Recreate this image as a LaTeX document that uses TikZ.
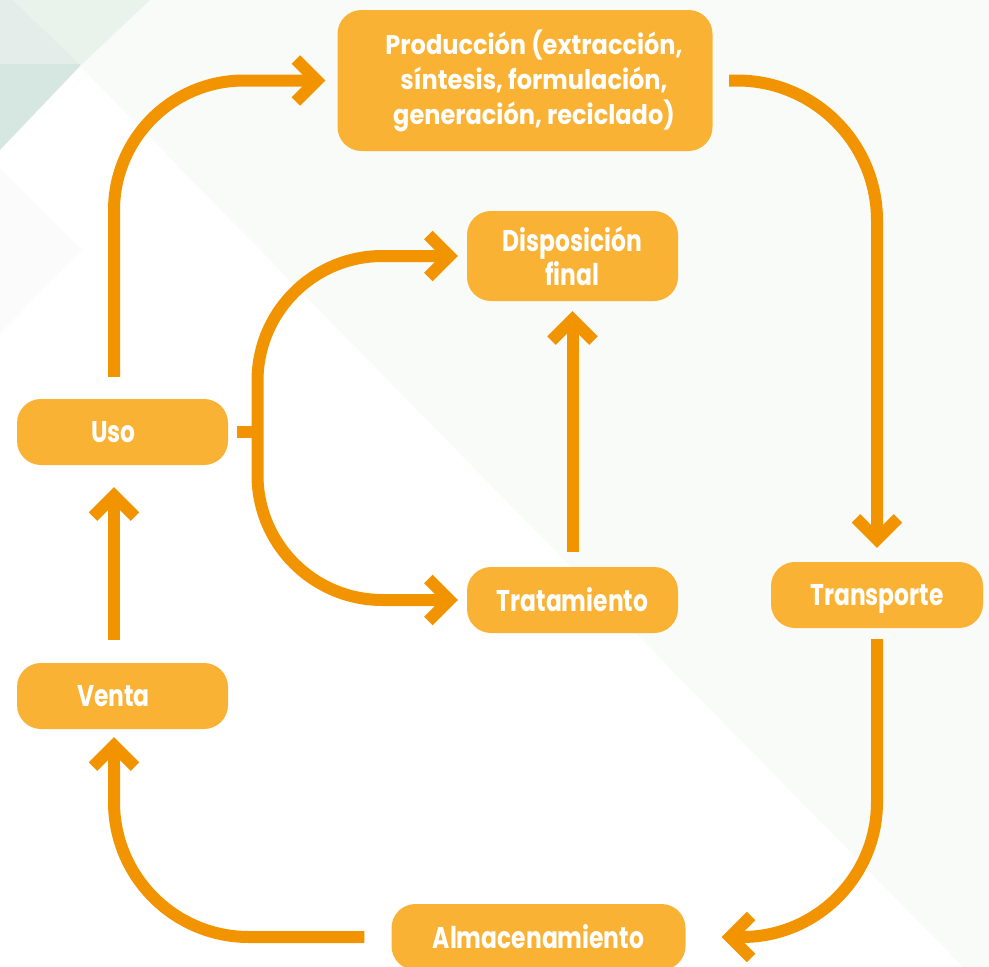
\documentclass[tikz,border=0pt]{standalone}
\usepackage{fontspec}
\setmainfont{Poppins}[FakeStretch=0.78]
\newfontfamily\prodfont{Poppins}[FakeStretch=0.89]
\usetikzlibrary{arrows.meta,calc}
\definecolor{boxfill}{HTML}{F9B233}
\definecolor{arrowc}{HTML}{F29400}
\definecolor{bggrey}{HTML}{E4EDEA}
\definecolor{bggreen}{HTML}{E9F3EC}
\definecolor{bgdark}{HTML}{D6E6E0}
\definecolor{bglight}{HTML}{F8FBF8}
\definecolor{bgfaint}{HTML}{FBFBFB}
\begin{document}
\begin{tikzpicture}[x=1pt,y=-1pt,
  box/.style={draw=none, fill=boxfill, rounded corners=24pt, text=white,
    font=\bfseries\fontsize{30}{34}\selectfont, inner sep=0pt, align=center,
    minimum width=211pt, minimum height=66pt},
  flow/.style={draw=arrowc, line width=12pt, -{Straight Barb[length=21pt,width=42pt]}},
  link/.style={draw=arrowc, line width=12pt}]
\useasboundingbox (0,0) rectangle (989,967);
% background
\fill[white] (0,0) rectangle (989,967);
\fill[bglight] (150,0) -- (989,0) -- (989,967) -- (963,967) -- (80,66) -- cycle;
\fill[bggrey] (0,0) -- (13,0) -- (80,64) -- (0,64) -- cycle;
\fill[bggreen] (13,0) -- (150,0) -- (80,66) -- (80,64) -- cycle;
\fill[bgdark] (0,64) -- (80,64) -- (80,66) -- (0,150) -- cycle;
\fill[bgfaint] (0,168) -- (82,250) -- (0,333) -- cycle;
% nodes
\node[box, minimum width=375pt, minimum height=141pt, font=\prodfont\bfseries\fontsize{27}{35}\selectfont] (prod) at (525,80.5)
  {\hspace*{18pt}\raisebox{26.5pt}[0pt][0pt]{\begin{tabular}[t]{@{}c@{}}Producción (extracción,\\síntesis, formulación,\\generación, reciclado)\end{tabular}}};
\node[box, minimum height=90pt] (disp) at (572.5,256) {Disposición\\final};
\node[box] (trat) at (572.5,600) {Tratamiento};
\node[box, minimum width=212pt] (trans) at (877,595) {\raisebox{0pt}[\height][0pt]{Transporte}};
\node[box] (uso) at (122.5,432) {Uso\hspace*{18pt}};
\node[box] (venta) at (122.5,696) {Venta\hspace*{18pt}};
\node[box, minimum width=294pt] (alm) at (538.5,937) {Almacenamiento};
% connectors
\draw[flow, rounded corners=130pt] ([xshift=-8.5pt,yshift=22pt]uso.north) |- ([xshift=-12pt]prod.west);
\draw[flow, rounded corners=140pt] ([xshift=16.5pt]prod.east) -| ([yshift=14pt]trans.north);
\draw[flow, rounded corners=135pt] ([yshift=-11pt]trans.south) |- ([xshift=36pt]alm.east);
\draw[flow, rounded corners=135pt] ([xshift=-27pt]alm.west) -| ([xshift=-8.5pt,yshift=-8pt]venta.south);
\draw[flow] ([xshift=-8.5pt,yshift=23pt]venta.north) -- ([xshift=-8.5pt,yshift=-22pt]uso.south);
\coordinate (split) at (257.5,432);
\draw[link] ([xshift=9pt]uso.east) -- (split);
\draw[flow, rounded corners=125pt] (split) |- ([xshift=-9pt]disp.west);
\draw[flow, rounded corners=125pt] (split) |- ([xshift=-9pt]trat.west);
\draw[flow] ([yshift=15pt]trat.north) -- ([yshift=-10pt]disp.south);
\end{tikzpicture}
\end{document}
